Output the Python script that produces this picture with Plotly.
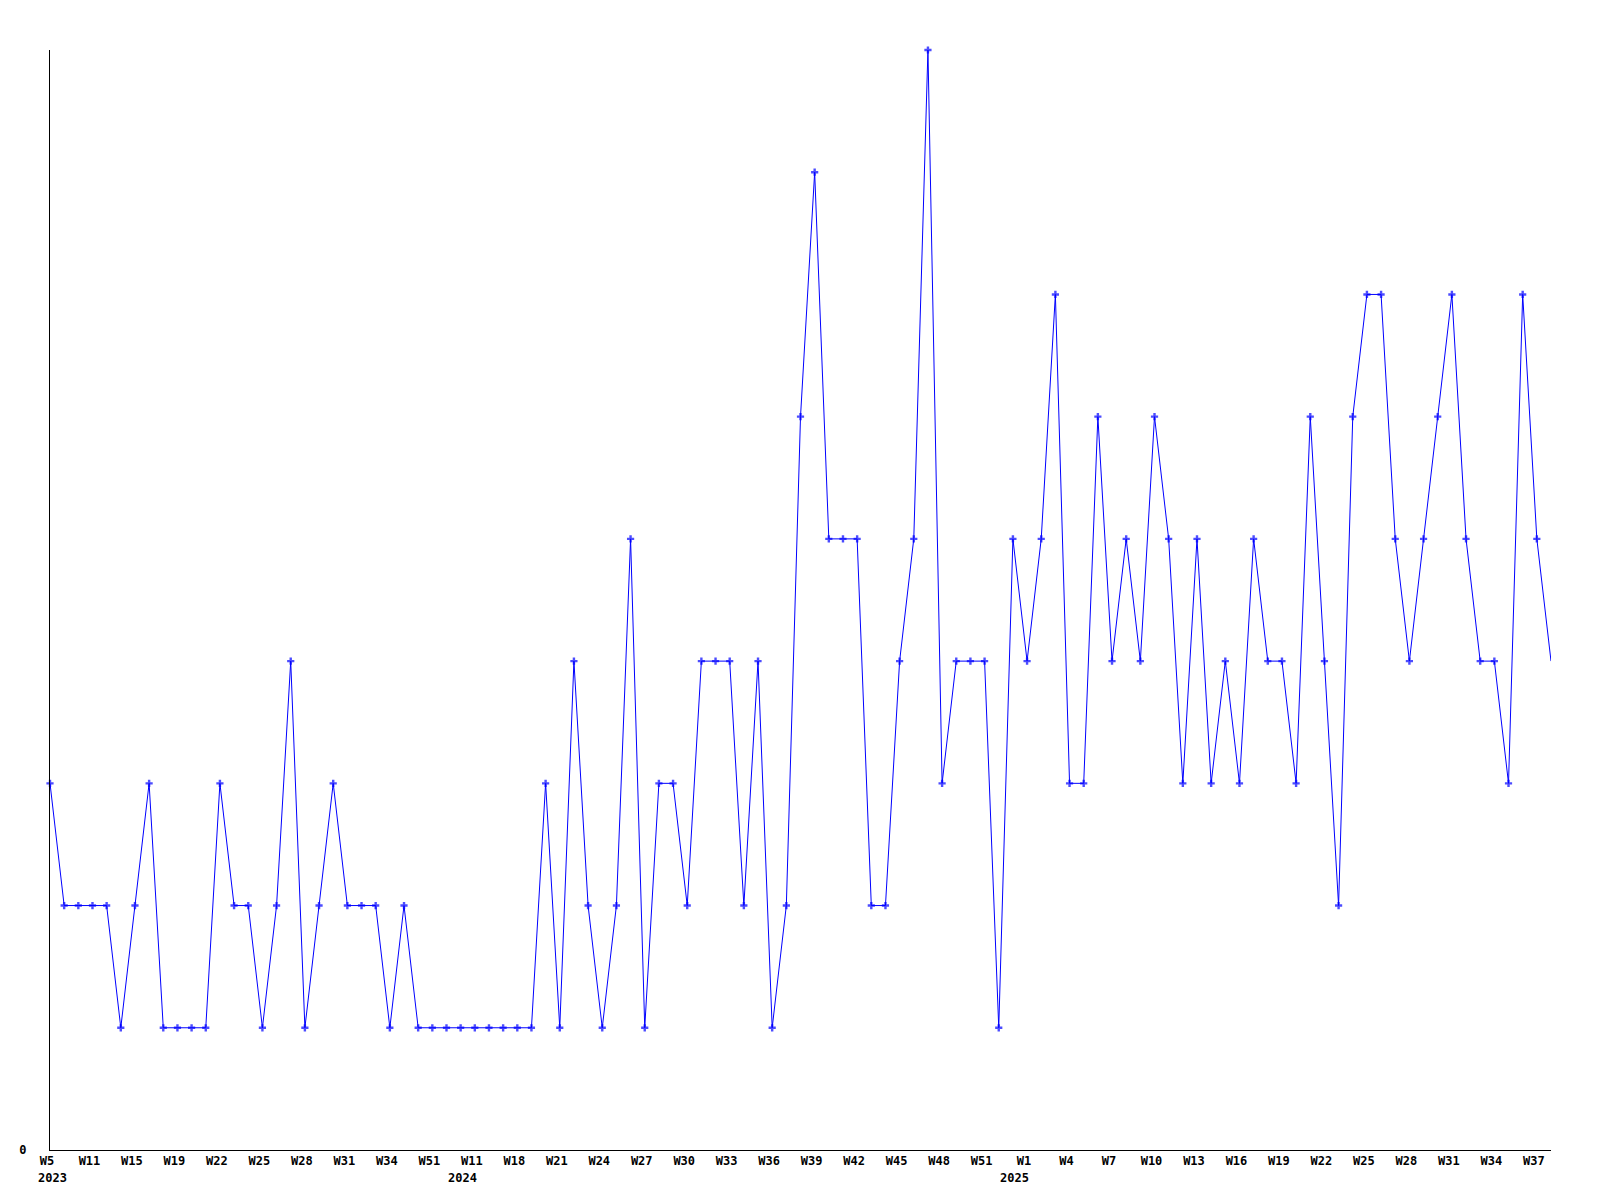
import plotly.graph_objects as go

# Weekly values (one per point, left to right)
values = [3, 2, 2, 2, 2, 1, 2, 3, 1, 1, 1, 1, 3, 2, 2, 1, 2, 4, 1, 2,
          3, 2, 2, 2, 1, 2, 1, 1, 1, 1, 1, 1, 1, 1, 1, 3, 1, 4, 2, 1,
          2, 5, 1, 3, 3, 2, 4, 4, 4, 2, 4, 1, 2, 6, 8, 5, 5, 5, 2, 2,
          4, 5, 9, 3, 4, 4, 4, 1, 5, 4, 5, 7, 3, 3, 6, 4, 5, 4, 6, 5,
          3, 5, 3, 4, 3, 5, 4, 4, 3, 6, 4, 2, 6, 7, 7, 5, 4, 5, 6, 7,
          5, 4, 4, 3, 7, 5, 4]

# Tick labels shown every third point
week_labels = ["W5", "W11", "W15", "W19", "W22", "W25", "W28", "W31", "W34",
               "W51", "W11", "W18", "W21", "W24", "W27", "W30", "W33", "W36",
               "W39", "W42", "W45", "W48", "W51", "W1", "W4", "W7", "W10",
               "W13", "W16", "W19", "W22", "W25", "W28", "W31", "W34", "W37"]
label_step = 3

# Year labels and the point index where each year begins
years = ["2023", "2024", "2025"]
year_start_index = [0, 29, 68]

x = list(range(len(values)))
tick_vals = [i * label_step for i in range(len(week_labels))]
marker_sizes = [6] * (len(values) - 1) + [0]

FONT = dict(family="DejaVu Sans Mono", size=12, color="black", weight="bold")

fig = go.Figure()
fig.add_trace(go.Scatter(
    x=x, y=values, mode="lines+markers",
    line=dict(color="#0000ff", width=1),
    marker=dict(symbol="cross", size=marker_sizes, color="#0000ff",
                line=dict(width=0)),
    cliponaxis=False, showlegend=False, hoverinfo="x+y",
))

for yr, idx in zip(years, year_start_index):
    fig.add_annotation(
        x=idx, y=0, xref="x", yref="paper", text=yr, showarrow=False,
        xanchor="center", yanchor="top", yshift=-19, xshift=2, font=FONT,
    )

fig.update_layout(
    width=1600, height=1200,
    margin=dict(l=50, r=49, t=50, b=50),
    paper_bgcolor="white", plot_bgcolor="white",
    font=FONT,
    xaxis=dict(range=[0, len(values) - 1], tickvals=tick_vals, ticktext=week_labels,
               showline=True, linecolor="black", linewidth=1,
               showgrid=False, zeroline=False, ticks="", tickangle=0,
               ticklabelshift=-3, tickfont=FONT),
    yaxis=dict(range=[0, 9], tickvals=[0], ticktext=["0"],
               showline=True, linecolor="black", linewidth=1,
               showgrid=False, zeroline=False, ticks="",
               ticklabelstandoff=20, tickfont=FONT),
)

fig.write_html("out.html", config={"displayModeBar": False},
               post_script="document.body.style.margin='0';document.body.style.overflow='hidden';")
